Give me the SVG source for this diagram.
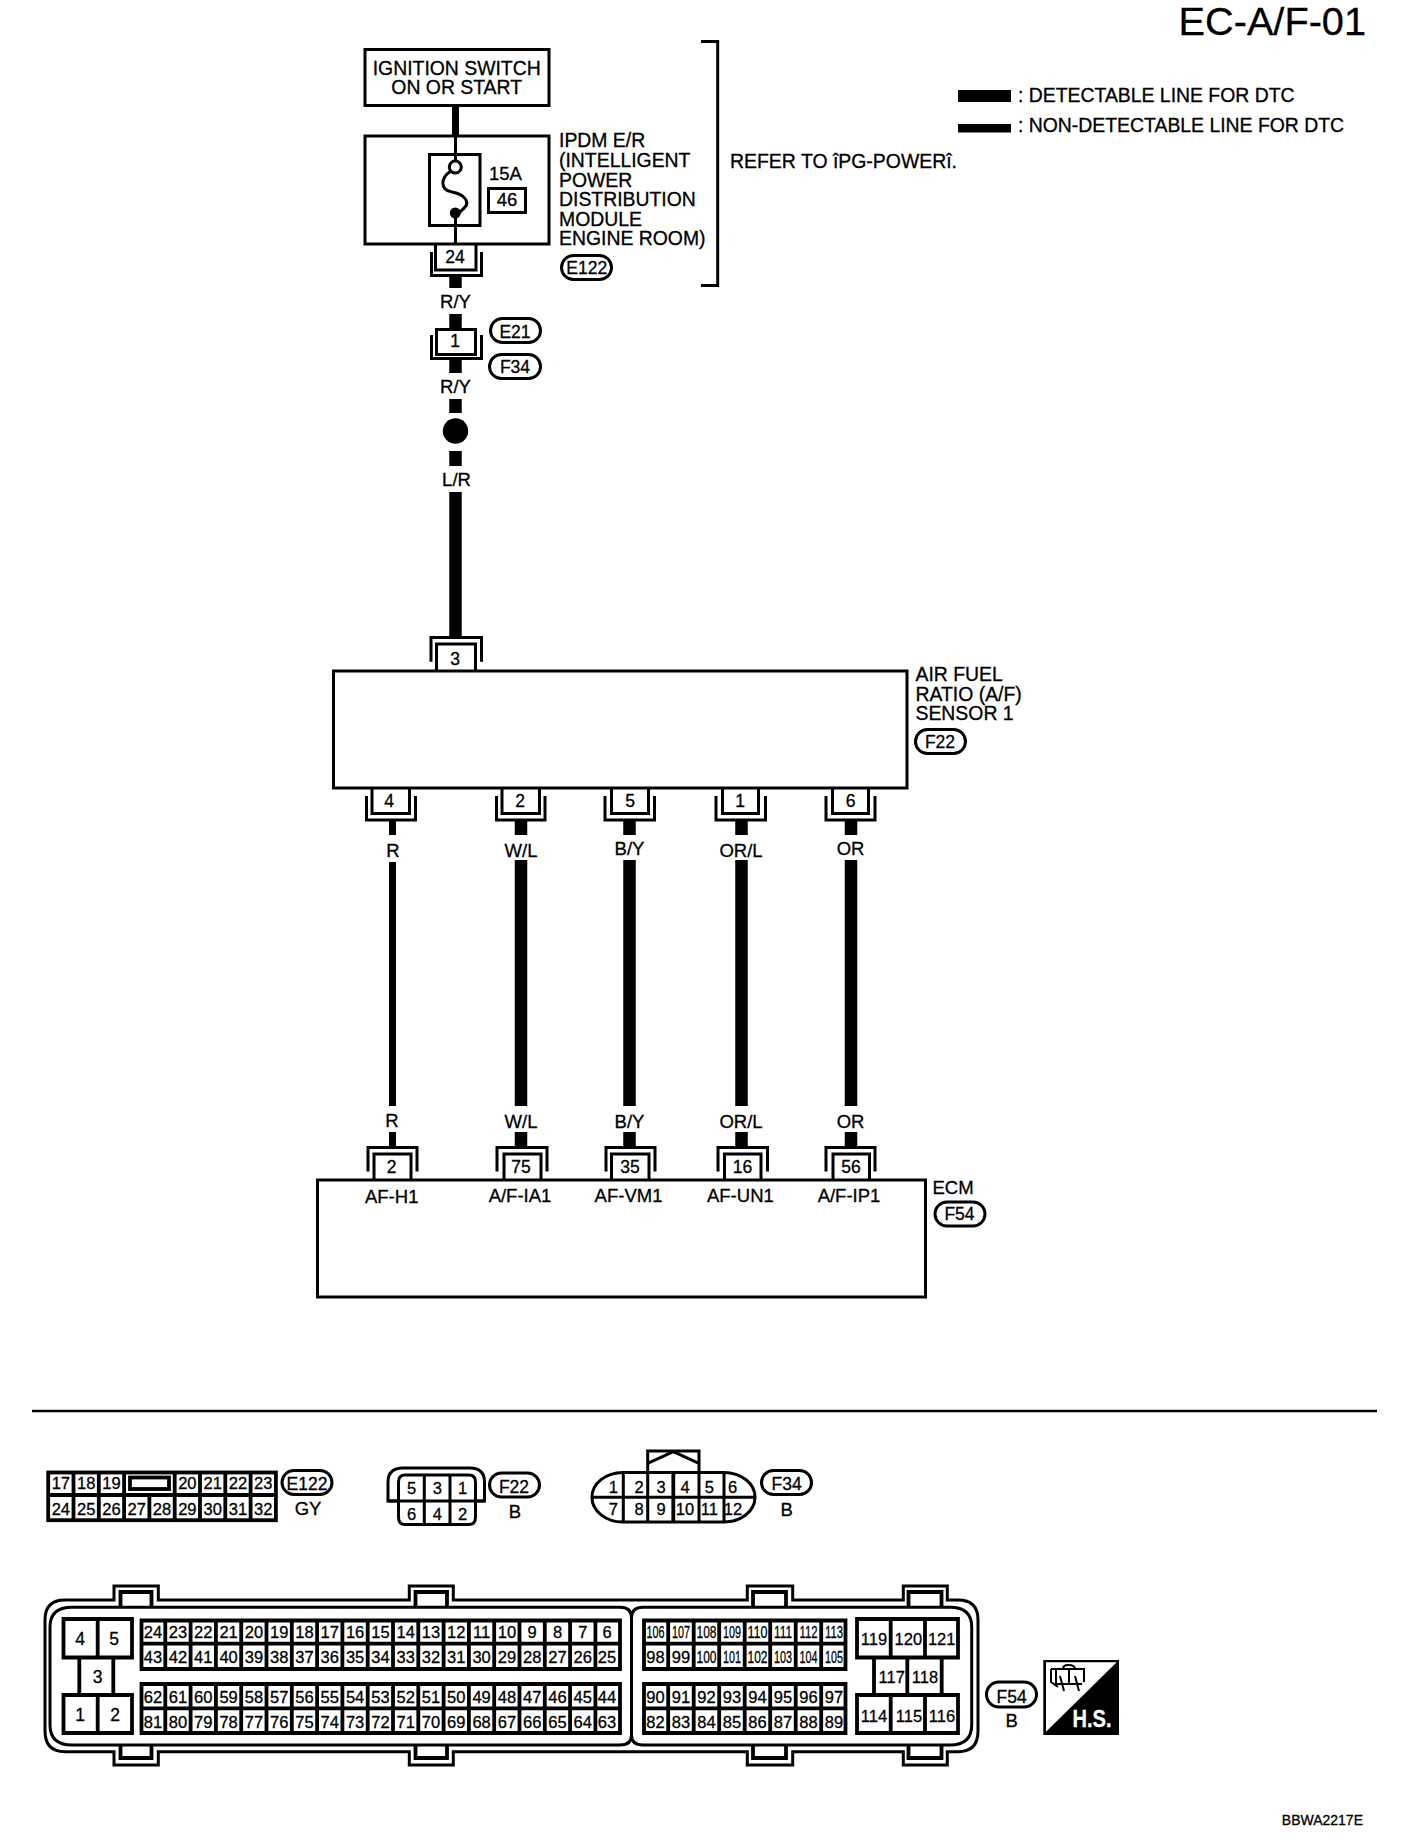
<svg xmlns="http://www.w3.org/2000/svg" width="1408" height="1842" viewBox="0 0 1408 1842">
<style>
text{font-family:"Liberation Sans",Arial,sans-serif;font-size:18.5px;fill:#000;stroke:#000;stroke-width:.3}
.c{text-anchor:middle}
.l{font-size:19.4px}
.p{font-size:17.5px;text-anchor:middle}
.d{font-size:16.5px;text-anchor:middle}
.s{fill:none;stroke:#000;stroke-width:3}
.g{fill:none;stroke:#000;stroke-width:3.8}
.b{fill:#fff;stroke:#000;stroke-width:3}
.t{stroke:#000;stroke-width:12.5;fill:none}
.n{stroke:#000;stroke-width:7;fill:none}
.h{stroke:#000;stroke-width:3;fill:none}
</style>
<rect width="1408" height="1842" fill="#fff"/>

<g id="connectors">
<path class="n" d="M455.5,107V135"/>
<path class="h" d="M455.5,135V160M455.5,218V244"/>
<path class="t" d="M455.5,277V288M455.5,314V329M455.5,360V373M455.5,399V413M455.5,451V466M455.5,492V637"/>
<path class="n" d="M392.5,821V835M392.5,862V1106M392.5,1132V1147"/>
<path class="t" d="M521,821V835M521,860V1106M521,1132V1147M629.5,821V835M629.5,860V1106M629.5,1132V1147M741.5,821V835M741.5,860V1106M741.5,1132V1147M851,821V835M851,860V1106M851,1132V1147"/>
</g>

<g id="title">
<text x="1366" y="35" text-anchor="end" style="font-size:39.7px">EC-A/F-01</text>
<text x="1363" y="1825" text-anchor="end" style="font-size:14px">BBWA2217E</text>
</g>

<g id="legend">
<rect x="958" y="90" width="53" height="12"/>
<rect x="958" y="124" width="53" height="8.5"/>
<text class="l" x="1018" y="102">: DETECTABLE LINE FOR DTC</text>
<text class="l" x="1018" y="132">: NON-DETECTABLE LINE FOR DTC</text>
</g>

<g id="ignition-switch">
<rect class="b" x="365" y="49.5" width="184" height="56"/>
<text class="c l" x="456.7" y="75">IGNITION SWITCH</text>
<text class="c l" x="456.7" y="94.3">ON OR START</text>
</g>

<g id="ipdm">
<path class="s" d="M365,136H549V244H365Z"/>
<rect class="b" x="429.5" y="154.5" width="50.5" height="71"/>
<path class="h" d="M455.5,136V161M455.5,216V244"/>
<circle class="b" cx="455.3" cy="167" r="6"/>
<circle cx="455.3" cy="213" r="5.5"/>
<path class="s" d="M451,171C440,178 440,190 452,192C464,194 470,202 465,207C462,211 458,213 455,214"/>
<text x="489" y="180">15A</text>
<rect class="b" x="488.5" y="188.5" width="37" height="24"/>
<text class="c" x="507" y="206">46</text>
<text class="l" x="559" y="147.3">IPDM E/R</text>
<text class="l" x="559" y="166.7">(INTELLIGENT</text>
<text class="l" x="559" y="186.5">POWER</text>
<text class="l" x="559" y="206">DISTRIBUTION</text>
<text class="l" x="559" y="225.7">MODULE</text>
<text class="l" x="559" y="245">ENGINE ROOM)</text>
<rect class="b" x="561.5" y="255.5" width="50" height="24" rx="12"/>
<text class="p" x="586.7" y="274">E122</text>
<path class="s" d="M435.5,244V270H476V244"/>
<path class="s" d="M431.5,252V275.5H481.5V252"/>
<text class="p" x="455" y="263">24</text>
</g>

<g id="bracket">
<path class="s" d="M701,41.5H717.7V285.5H701"/>
<text x="730" y="168" style="font-size:19.4px" textLength="227" lengthAdjust="spacingAndGlyphs">REFER TO îPG-POWERî.</text>
</g>

<g id="wire-labels">
<text class="c" x="455.5" y="308">R/Y</text>
<text class="c" x="455.5" y="393">R/Y</text>
<text class="c" x="456.5" y="486">L/R</text>
<text class="c" x="393" y="857">R</text>
<text class="c" x="521" y="857">W/L</text>
<text class="c" x="629.5" y="855">B/Y</text>
<text class="c" x="741" y="857">OR/L</text>
<text class="c" x="850.5" y="855">OR</text>
<text class="c" x="392" y="1127">R</text>
<text class="c" x="521" y="1128">W/L</text>
<text class="c" x="629.5" y="1128">B/Y</text>
<text class="c" x="741" y="1128">OR/L</text>
<text class="c" x="850.5" y="1128">OR</text>
</g>

<g id="joint-connector">
<rect class="b" x="436.5" y="329.5" width="39" height="25"/>
<path class="s" d="M431.5,335V358.5H481.5V335"/>
<text class="p" x="455" y="347">1</text>
<rect class="b" x="490.5" y="318.5" width="50" height="24" rx="12"/>
<text class="p" x="515" y="338">E21</text>
<rect class="b" x="489.5" y="354.5" width="51" height="24" rx="12"/>
<text class="p" x="515" y="373">F34</text>
</g>

<g id="splice"><circle cx="455.5" cy="431" r="12.7"/></g>

<g id="af-sensor">
<rect class="b" x="333.5" y="671" width="573.5" height="117"/>
<path class="s" d="M436.5,670V644H475.5V670"/>
<path class="s" d="M431,661.7V637.5H481.5V661.7"/>
<text class="p" x="455" y="665">3</text>
<path class="s" d="M372,789V813.5H409.5V789M366.5,796V820H415.5V796"/>
<text class="p" x="389" y="807">4</text>
<path class="s" d="M502,789V813.5H539.5V789M496.5,796V820H545V796"/>
<text class="p" x="520" y="807">2</text>
<path class="s" d="M611.5,789V813.5H648.5V789M605,796V820H654.5V796"/>
<text class="p" x="630" y="807">5</text>
<path class="s" d="M722.5,789V813.5H758.5V789M716,796V820H765.5V796"/>
<text class="p" x="740" y="807">1</text>
<path class="s" d="M832.5,789V813.5H868.5V789M826,796V820H875V796"/>
<text class="p" x="850.5" y="807">6</text>
<text class="l" x="915.5" y="680.7">AIR FUEL</text>
<text class="l" x="915.5" y="700.7">RATIO (A/F)</text>
<text class="l" x="915.5" y="720">SENSOR 1</text>
<rect class="b" x="915.5" y="729.5" width="50" height="24" rx="12"/>
<text class="p" x="940" y="748">F22</text>
</g>

<g id="ecm">
<rect class="b" x="317.5" y="1180" width="608" height="117"/>
<path class="s" d="M374,1179V1154H411V1179M368,1171.5V1147.5H417V1171.5"/>
<text class="p" x="391.7" y="1173">2</text>
<path class="s" d="M504,1179V1154H541V1179M497,1171.5V1147.5H547V1171.5"/>
<text class="p" x="521" y="1173">75</text>
<path class="s" d="M611.5,1179V1154H649V1179M606,1171.5V1147.5H655V1171.5"/>
<text class="p" x="630" y="1173">35</text>
<path class="s" d="M724.5,1179V1154H761V1179M718,1171.5V1147.5H767.5V1171.5"/>
<text class="p" x="742.5" y="1173">16</text>
<path class="s" d="M833,1179V1154H869.5V1179M826,1171.5V1147.5H875V1171.5"/>
<text class="p" x="851" y="1173">56</text>
<text class="c" x="391.7" y="1202.7">AF-H1</text>
<text class="c" x="520" y="1202">A/F-IA1</text>
<text class="c" x="628.5" y="1202">AF-VM1</text>
<text class="c" x="740.4" y="1202">AF-UN1</text>
<text class="c" x="849" y="1202">A/F-IP1</text>
<text x="932.5" y="1194">ECM</text>
<rect class="b" x="935" y="1202" width="50" height="24" rx="12"/>
<text class="p" x="959.5" y="1220">F54</text>
</g>

<path id="separator" d="M32,1411H1377" stroke="#000" stroke-width="2.5" fill="none"/>

<g id="conn-e122">
<rect class="b" x="48.2" y="1472.5" width="227.7" height="47.7" style="stroke-width:3.8"/>
<path class="g" d="M48.2,1495H275.9M73.5,1472.5V1520M98.8,1472.5V1520M124.1,1472.5V1520M174.7,1472.5V1520M200,1472.5V1520M225.3,1472.5V1520M250.6,1472.5V1520M149.4,1495V1520"/>
<rect class="g" x="130" y="1477.5" width="39" height="11.5"/>
<text class="d" x="60.85" y="1488.5">17</text><text class="d" x="86.15" y="1488.5">18</text><text class="d" x="111.45" y="1488.5">19</text><text class="d" x="187.35" y="1488.5">20</text><text class="d" x="212.65" y="1488.5">21</text><text class="d" x="237.95" y="1488.5">22</text><text class="d" x="263.25" y="1488.5">23</text>
<text class="d" x="60.85" y="1515">24</text><text class="d" x="86.15" y="1515">25</text><text class="d" x="111.45" y="1515">26</text><text class="d" x="136.75" y="1515">27</text><text class="d" x="162.05" y="1515">28</text><text class="d" x="187.35" y="1515">29</text><text class="d" x="212.65" y="1515">30</text><text class="d" x="237.95" y="1515">31</text><text class="d" x="263.25" y="1515">32</text>
<rect class="b" x="282" y="1470.5" width="50" height="24" rx="12"/>
<text class="p" x="307" y="1490">E122</text>
<text class="c" x="308" y="1515">GY</text>
</g>

<g id="conn-f22">
<path class="s" d="M388,1501V1482Q388,1468 403,1468H470Q484.5,1468 484.5,1482V1501Z"/>
<path class="b" d="M398.5,1501V1482Q398.5,1475 405,1475H469Q475.5,1475 475.5,1482V1517Q475.5,1524.5 469,1524.5H405Q398.5,1524.5 398.5,1517Z"/>
<path class="s" d="M388,1501H484.5M424.3,1475V1524.5M450,1475V1524.5"/>
<text class="d" x="411.7" y="1494.3">5</text><text class="d" x="437.3" y="1494.3">3</text><text class="d" x="462.7" y="1494.3">1</text>
<text class="d" x="411.7" y="1520">6</text><text class="d" x="437.3" y="1520">4</text><text class="d" x="462.7" y="1520">2</text>
<rect class="b" x="489.5" y="1473" width="50" height="24" rx="12"/>
<text class="p" x="514" y="1492.7">F22</text>
<text class="c" x="515" y="1517.7">B</text>
</g>

<g id="conn-f34">
<path class="b" d="M647.7,1473V1451H699V1473"/>
<path class="s" d="M647.7,1463.3L673.3,1451.7L699,1463.3"/>
<path class="b" d="M623.3,1472.5H724A31,24.5 0 0 1 755,1497.3A31,24.5 0 0 1 724,1522H623.3A31,24.5 0 0 1 592,1497.3A31,24.5 0 0 1 623.3,1472.5Z"/>
<path class="s" d="M592,1497.3H755M623.3,1472.5V1522M647.7,1472.5V1522M699,1472.5V1522M724,1472.5V1522"/>
<path class="g" d="M673.3,1472.5V1522"/>
<text class="d" x="613.3" y="1492.7">1</text><text class="d" x="639" y="1492.7">2</text><text class="d" x="661" y="1492.7">3</text><text class="d" x="685" y="1492.7">4</text><text class="d" x="709.3" y="1492.7">5</text><text class="d" x="732.7" y="1492.7">6</text>
<text class="d" x="613.3" y="1515">7</text><text class="d" x="639" y="1515">8</text><text class="d" x="661" y="1515">9</text><text class="d" x="685" y="1515">10</text><text class="d" x="709.3" y="1515">11</text><text class="d" x="733" y="1515">12</text>
<rect class="b" x="761.5" y="1470.5" width="50" height="24" rx="12"/>
<text class="p" x="786.7" y="1490">F34</text>
<text class="c" x="786.7" y="1515.7">B</text>
</g>

<g id="conn-f54">
<path class="s" d="M65,1600H114V1586H158.3V1600H409.3V1586H453.3V1600H747.3V1586H792.7V1600H903.3V1586H947.3V1600H958Q978,1600 978,1620V1731Q978,1751.7 958,1751.7H947.3V1765H903.3V1751.7H792.7V1765H747.3V1751.7H453.3V1765H409.3V1751.7H158.3V1765H114V1751.7H65Q45,1751.7 45,1731V1620Q45,1600 65,1600Z"/>
<path class="s" d="M72,1607.3H620Q631.5,1607.3 631.5,1618V1735Q631.5,1745 620,1745H72Q50,1745 50,1725V1627Q50,1607.3 72,1607.3Z"/>
<path class="s" d="M643,1607.3H950Q971.7,1607.3 971.7,1627V1725Q971.7,1745 950,1745H643Q631.5,1745 631.5,1735V1618Q631.5,1607.3 643,1607.3Z"/>
<path class="g" d="M120.5,1606V1592H151.5V1606M415.5,1606V1592H447V1606M753,1606V1592H786V1606M908.5,1606V1592H941.5V1606M120.5,1745V1758H151.5V1745M415.5,1745V1758H447V1745M753,1745V1758H786V1745M908.5,1745V1758H941.5V1745"/>
<path class="g" d="M63.5,1619H132V1657.5H63.5ZM97.7,1619V1657.5M79.3,1657.5V1695M113.3,1657.5V1695M63.5,1695H132V1733H63.5ZM97.7,1695V1733"/>
<path class="g" d="M857,1619H958V1657.5H857ZM890.7,1619V1657.5M925,1619V1657.5M874,1657.5V1695M941.7,1657.5V1695M907.3,1657.5V1695M857,1695H958V1733H857ZM890.7,1695V1733M925,1695V1733"/>
<path class="g" d="M141.5,1620.5H620V1669H141.5ZM141.5,1643.7H620M141.5,1684H620V1733H141.5ZM141.5,1708.3H620M165.3,1620.5V1669M190.6,1620.5V1669M215.9,1620.5V1669M241.2,1620.5V1669M266.5,1620.5V1669M291.8,1620.5V1669M317.1,1620.5V1669M342.4,1620.5V1669M367.7,1620.5V1669M393,1620.5V1669M418.3,1620.5V1669M443.6,1620.5V1669M468.9,1620.5V1669M494.2,1620.5V1669M519.5,1620.5V1669M544.8,1620.5V1669M570.1,1620.5V1669M595.4,1620.5V1669M165.3,1684V1733M190.6,1684V1733M215.9,1684V1733M241.2,1684V1733M266.5,1684V1733M291.8,1684V1733M317.1,1684V1733M342.4,1684V1733M367.7,1684V1733M393,1684V1733M418.3,1684V1733M443.6,1684V1733M468.9,1684V1733M494.2,1684V1733M519.5,1684V1733M544.8,1684V1733M570.1,1684V1733M595.4,1684V1733"/>
<path class="g" d="M644,1620.5H845.5V1669H644ZM644,1643.7H845.5M644,1684H845.5V1733H644ZM644,1708.3H845.5M668.2,1620.5V1669M693.7,1620.5V1669M719.2,1620.5V1669M744.7,1620.5V1669M770.2,1620.5V1669M795.7,1620.5V1669M821.2,1620.5V1669M668.2,1684V1733M693.7,1684V1733M719.2,1684V1733M744.7,1684V1733M770.2,1684V1733M795.7,1684V1733M821.2,1684V1733"/>
<text class="p" x="80" y="1645">4</text><text class="p" x="114" y="1645">5</text><text class="p" x="97.7" y="1683">3</text><text class="p" x="80" y="1721">1</text><text class="p" x="115" y="1721">2</text>
<text class="d" x="153" y="1638.3">24</text><text class="d" x="178" y="1638.3">23</text><text class="d" x="203.3" y="1638.3">22</text><text class="d" x="228.6" y="1638.3">21</text><text class="d" x="253.9" y="1638.3">20</text><text class="d" x="279.2" y="1638.3">19</text><text class="d" x="304.5" y="1638.3">18</text><text class="d" x="329.8" y="1638.3">17</text><text class="d" x="355.1" y="1638.3">16</text><text class="d" x="380.4" y="1638.3">15</text><text class="d" x="405.7" y="1638.3">14</text><text class="d" x="431" y="1638.3">13</text><text class="d" x="456.3" y="1638.3">12</text><text class="d" x="481.6" y="1638.3">11</text><text class="d" x="506.9" y="1638.3">10</text><text class="d" x="532.2" y="1638.3">9</text><text class="d" x="557.5" y="1638.3">8</text><text class="d" x="582.8" y="1638.3">7</text><text class="d" x="607" y="1638.3">6</text>
<text class="d" x="153" y="1663.3">43</text><text class="d" x="178" y="1663.3">42</text><text class="d" x="203.3" y="1663.3">41</text><text class="d" x="228.6" y="1663.3">40</text><text class="d" x="253.9" y="1663.3">39</text><text class="d" x="279.2" y="1663.3">38</text><text class="d" x="304.5" y="1663.3">37</text><text class="d" x="329.8" y="1663.3">36</text><text class="d" x="355.1" y="1663.3">35</text><text class="d" x="380.4" y="1663.3">34</text><text class="d" x="405.7" y="1663.3">33</text><text class="d" x="431" y="1663.3">32</text><text class="d" x="456.3" y="1663.3">31</text><text class="d" x="481.6" y="1663.3">30</text><text class="d" x="506.9" y="1663.3">29</text><text class="d" x="532.2" y="1663.3">28</text><text class="d" x="557.5" y="1663.3">27</text><text class="d" x="582.8" y="1663.3">26</text><text class="d" x="607" y="1663.3">25</text>
<text class="d" x="153" y="1702.7">62</text><text class="d" x="178" y="1702.7">61</text><text class="d" x="203.3" y="1702.7">60</text><text class="d" x="228.6" y="1702.7">59</text><text class="d" x="253.9" y="1702.7">58</text><text class="d" x="279.2" y="1702.7">57</text><text class="d" x="304.5" y="1702.7">56</text><text class="d" x="329.8" y="1702.7">55</text><text class="d" x="355.1" y="1702.7">54</text><text class="d" x="380.4" y="1702.7">53</text><text class="d" x="405.7" y="1702.7">52</text><text class="d" x="431" y="1702.7">51</text><text class="d" x="456.3" y="1702.7">50</text><text class="d" x="481.6" y="1702.7">49</text><text class="d" x="506.9" y="1702.7">48</text><text class="d" x="532.2" y="1702.7">47</text><text class="d" x="557.5" y="1702.7">46</text><text class="d" x="582.8" y="1702.7">45</text><text class="d" x="607" y="1702.7">44</text>
<text class="d" x="153" y="1727.7">81</text><text class="d" x="178" y="1727.7">80</text><text class="d" x="203.3" y="1727.7">79</text><text class="d" x="228.6" y="1727.7">78</text><text class="d" x="253.9" y="1727.7">77</text><text class="d" x="279.2" y="1727.7">76</text><text class="d" x="304.5" y="1727.7">75</text><text class="d" x="329.8" y="1727.7">74</text><text class="d" x="355.1" y="1727.7">73</text><text class="d" x="380.4" y="1727.7">72</text><text class="d" x="405.7" y="1727.7">71</text><text class="d" x="431" y="1727.7">70</text><text class="d" x="456.3" y="1727.7">69</text><text class="d" x="481.6" y="1727.7">68</text><text class="d" x="506.9" y="1727.7">67</text><text class="d" x="532.2" y="1727.7">66</text><text class="d" x="557.5" y="1727.7">65</text><text class="d" x="582.8" y="1727.7">64</text><text class="d" x="607" y="1727.7">63</text>
<text class="d" x="655.5" y="1638.3" textLength="18" lengthAdjust="spacingAndGlyphs">106</text><text class="d" x="681" y="1638.3" textLength="18" lengthAdjust="spacingAndGlyphs">107</text><text class="d" x="706.5" y="1638.3" textLength="20" lengthAdjust="spacingAndGlyphs">108</text><text class="d" x="732" y="1638.3" textLength="18" lengthAdjust="spacingAndGlyphs">109</text><text class="d" x="757.5" y="1638.3" textLength="20" lengthAdjust="spacingAndGlyphs">110</text><text class="d" x="783" y="1638.3" textLength="18" lengthAdjust="spacingAndGlyphs">111</text><text class="d" x="808.5" y="1638.3" textLength="18" lengthAdjust="spacingAndGlyphs">112</text><text class="d" x="834" y="1638.3" textLength="18" lengthAdjust="spacingAndGlyphs">113</text>
<text class="d" x="655.5" y="1663.3">98</text><text class="d" x="681" y="1663.3">99</text><text class="d" x="706.5" y="1663.3" textLength="20" lengthAdjust="spacingAndGlyphs">100</text><text class="d" x="732" y="1663.3" textLength="18" lengthAdjust="spacingAndGlyphs">101</text><text class="d" x="757.5" y="1663.3" textLength="20" lengthAdjust="spacingAndGlyphs">102</text><text class="d" x="783" y="1663.3" textLength="18" lengthAdjust="spacingAndGlyphs">103</text><text class="d" x="808.5" y="1663.3" textLength="18" lengthAdjust="spacingAndGlyphs">104</text><text class="d" x="834" y="1663.3" textLength="18" lengthAdjust="spacingAndGlyphs">105</text>
<text class="d" x="655.5" y="1702.7">90</text><text class="d" x="681" y="1702.7">91</text><text class="d" x="706.5" y="1702.7">92</text><text class="d" x="732" y="1702.7">93</text><text class="d" x="757.5" y="1702.7">94</text><text class="d" x="783" y="1702.7">95</text><text class="d" x="808.5" y="1702.7">96</text><text class="d" x="834" y="1702.7">97</text>
<text class="d" x="655.5" y="1727.7">82</text><text class="d" x="681" y="1727.7">83</text><text class="d" x="706.5" y="1727.7">84</text><text class="d" x="732" y="1727.7">85</text><text class="d" x="757.5" y="1727.7">86</text><text class="d" x="783" y="1727.7">87</text><text class="d" x="808.5" y="1727.7">88</text><text class="d" x="834" y="1727.7">89</text>
<text class="d" x="874" y="1645">119</text><text class="d" x="908.3" y="1645">120</text><text class="d" x="941.7" y="1645">121</text>
<text class="d" x="891.7" y="1683.3">117</text><text class="d" x="925" y="1683.3">118</text>
<text class="d" x="874" y="1721.7">114</text><text class="d" x="909" y="1721.7">115</text><text class="d" x="942" y="1721.7">116</text>
<rect class="b" x="986.5" y="1682" width="50" height="25" rx="12.5"/>
<text class="p" x="1011.7" y="1702.7">F54</text>
<text class="c" x="1011.7" y="1727.3">B</text>
</g>

<g id="hs-symbol">
<rect x="1043.3" y="1660" width="75.7" height="75"/>
<path d="M1046,1662.3H1116.7L1046,1731.7Z" fill="#fff"/>
<path d="M1051,1669H1084V1682M1051,1669V1682L1058,1687M1056,1669V1684H1082M1069,1669V1684M1060,1676L1064,1691M1075,1676L1079,1691M1063,1669Q1063,1665 1068,1665Q1075,1665 1075,1669" fill="none" stroke="#000" stroke-width="2"/>
<text x="1072.5" y="1727.3" textLength="39" lengthAdjust="spacingAndGlyphs" style="font-size:23px;font-weight:bold;fill:#fff;stroke:#fff">H.S.</text>
</g>
</svg>
